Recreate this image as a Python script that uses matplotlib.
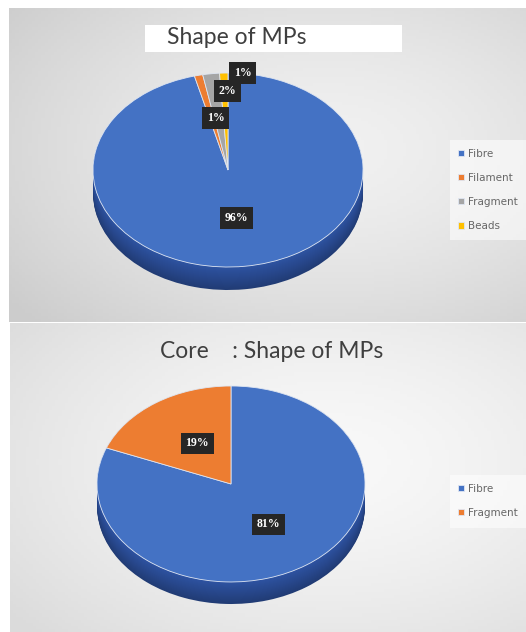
import numpy as np
import matplotlib.pyplot as plt
from matplotlib.colors import to_rgb
from matplotlib.patches import Rectangle

# data
surface_labels = ["Fibre", "Filament", "Fragment", "Beads"]
surface_values = [96, 1, 2, 1]
core_labels = ["Fibre", "Fragment"]
core_values = [81, 19]

palette = ["#4472C4", "#ED7D31", "#A5A5A5", "#FFC000"]
side_palette = ["#2E54A3", "#B35A1F", "#7A7A7A", "#BF9000"]

W, H = 526, 632
fig = plt.figure(figsize=(W / 100, H / 100), dpi=100)

# background panels (pixel coordinates)
bg = fig.add_axes([0, 0, 1, 1])
bg.set_xlim(0, W)
bg.set_ylim(H, 0)
bg.axis("off")


def gradient(ny, nx, cx, cy, inner, outer):
    yy, xx = np.mgrid[0:1:ny * 1j, 0:1:nx * 1j]
    d = np.sqrt(((xx - cx) / 0.8) ** 2 + ((yy - cy) / 0.8) ** 2)
    d = np.clip(d, 0, 1)
    return inner + (outer - inner) * d[..., None] ** 1.5


top_bg = gradient(100, 160, 0.62, 0.45, np.array([0.945, 0.945, 0.945]), np.array([0.80, 0.80, 0.80]))
bot_bg = gradient(100, 160, 0.62, 0.45, np.array([0.975, 0.975, 0.975]), np.array([0.86, 0.86, 0.86]))
bg.imshow(top_bg, extent=(9, W, 322, 8), aspect="auto", zorder=0)
bg.imshow(bot_bg, extent=(10, W, H, 323), aspect="auto", zorder=0)

# white title box on the top panel
bg.add_patch(Rectangle((145, 25), 257, 27, facecolor="white", edgecolor="none", zorder=1))
bg.text(237, 38, "Shape of MPs", ha="center", va="center", fontsize=16.5,
        family="Lato", color="#3F3F3F", zorder=2)
bg.text(272, 352, "Core    : Shape of MPs", ha="center", va="center", fontsize=16.5,
        family="Lato", color="#3F3F3F", zorder=2)

# legend backgrounds
bg.add_patch(Rectangle((450, 140), 76, 100, facecolor="white", alpha=0.55, edgecolor="none", zorder=1))
bg.add_patch(Rectangle((450, 475), 76, 53, facecolor="white", alpha=0.55, edgecolor="none", zorder=1))


def pie3d(rect, depth, values, labels, label_r, label_dx, legend_y):
    ax = fig.add_axes(rect)
    n = len(values)
    cols = palette[:n]
    sides = side_palette[:n]
    # side of the disc: stacked layers, darker towards the bottom
    for k in np.linspace(depth, 0.005, 24):
        shade = 0.72 + 0.28 * (1 - k / depth)
        sc = [tuple(np.clip(np.array(to_rgb(c)) * shade, 0, 1)) for c in sides]
        ax.pie(values, colors=sc, startangle=90, counterclock=False,
               center=(0, -k), radius=1, wedgeprops=dict(linewidth=0))
    wedges, _ = ax.pie(values, colors=cols, startangle=90, counterclock=False,
                       radius=1, wedgeprops=dict(linewidth=0.6, edgecolor="#dfe6f2"))
    ax.set_aspect("auto")
    ax.set_xlim(-1, 1)
    ax.set_ylim(-1 - depth, 1)
    ax.axis("off")

    total = sum(values)
    for w, v, r, dx in zip(wedges, values, label_r, label_dx):
        ang = np.deg2rad((w.theta1 + w.theta2) / 2)
        ax.text(r * np.cos(ang) + dx, r * np.sin(ang), f"{round(v / total * 100)}%",
                ha="center", va="center", color="white", fontsize=8.5,
                fontweight="bold", family="Liberation Serif",
                bbox=dict(boxstyle="square,pad=0.4", facecolor="#262626", edgecolor="none"),
                zorder=5)

    leg = fig.legend(wedges, labels, loc="center left",
                     bbox_to_anchor=(454 / W, 1 - legend_y / H),
                     frameon=False, fontsize=7.5, handlelength=0.55, handleheight=0.55,
                     handletextpad=0.35, labelspacing=1.35, borderaxespad=0)
    for t in leg.get_texts():
        t.set_color("#666666")
    return ax


# top: surface
pie3d([93 / W, 1 - 290 / H, 270 / W, 217 / H], 0.237, surface_values, surface_labels,
      label_r=[0.5, 0.55, 0.82, 1.0], label_dx=[0.0, 0.03, 0.1, 0.14], legend_y=190)

# bottom: core
pie3d([97 / W, 1 - 604 / H, 268 / W, 218 / H], 0.225, core_values, core_labels,
      label_r=[0.5, 0.5], label_dx=[0.0, 0.03], legend_y=501)

fig.savefig("out.png", dpi=100)
